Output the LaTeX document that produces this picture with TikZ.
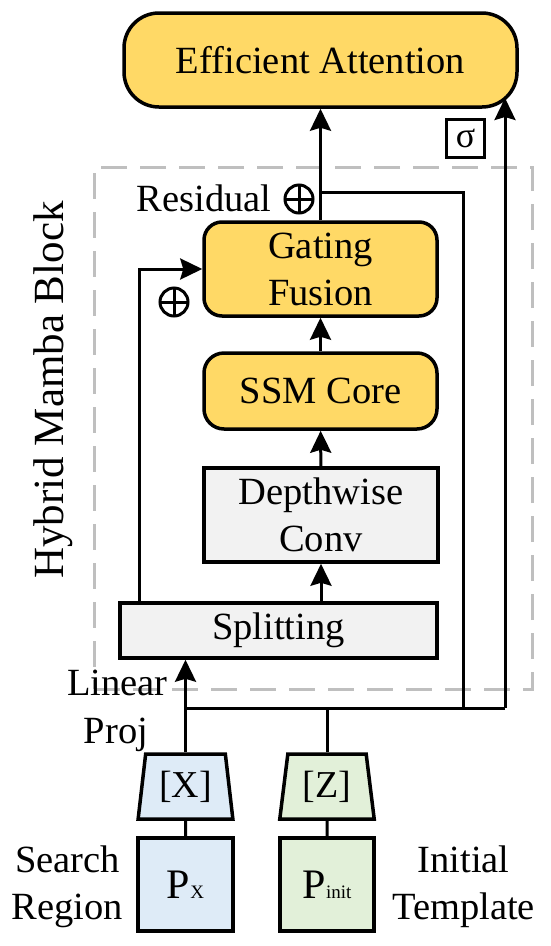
\documentclass[tikz,border=0pt]{standalone}
\usepackage{fontspec}
\setmainfont{Liberation Serif}
\usetikzlibrary{arrows.meta,shapes.geometric,calc}
\definecolor{gold}{HTML}{FFD966}
\definecolor{lightgrey}{HTML}{F2F2F2}
\definecolor{paleblue}{HTML}{DEEBF7}
\definecolor{palegreen}{HTML}{E2F0D9}
\definecolor{dashgrey}{HTML}{BFBFBF}
\begin{document}
\begin{tikzpicture}[x=1pt, y=-1pt, >={Stealth[length=22pt,width=21pt,inset=3pt]}, line width=3pt, font=\fontsize{38.5}{47}\selectfont]
		\tikzset{yb/.style={draw, fill=gold, rounded corners=18pt, line width=3.5pt, align=center, inner sep=0pt}}
		\tikzset{gb/.style={draw, fill=lightgrey, line width=3.5pt, align=center, inner sep=0pt}}
		\tikzset{trap/.style={draw, trapezium, trapezium left angle=81, trapezium right angle=81, trapezium stretches=true, minimum width=95pt, minimum height=65pt, line width=3.5pt, inner sep=0pt, font=\fontsize{38}{38}\selectfont}}
		\tikzset{op/.style={circle, draw, minimum size=28pt, inner sep=0pt, line width=3pt, path picture={\draw[line width=3pt] (path picture bounding box.north) -- (path picture bounding box.south) (path picture bounding box.west) -- (path picture bounding box.east);}}}
		\tikzset{lbl/.style={inner sep=0pt, align=center}}
		\useasboundingbox (0,0) rectangle (550,946);
		% dashed block frame
		\node[draw=dashgrey, dash pattern=on 26pt off 13pt, minimum width=438pt, minimum height=522pt, inner sep=0pt] (hmb) at (313,428) {};
		\node[lbl, rotate=90, anchor=base, font=\fontsize{43}{43}\selectfont] (hmbl) at (63,390) {Hybrid Mamba Block};
		% blocks
		\node[yb, rounded corners=35pt, minimum width=393pt, minimum height=94pt] (ea) at (320.5,60) {Efficient Attention};
		\node[draw, line width=3pt, minimum size=38pt, inner sep=0pt, font=\fontsize{36}{36}\selectfont] (sig) at (465.5,138) {σ};
		\node[yb, minimum width=233pt, minimum height=94pt] (gate) at (320.5,269) {Gating\\Fusion};
		\node[yb, rounded corners=20pt, minimum width=233pt, minimum height=76pt] (ssm) at (320.5,391) {SSM Core};
		\node[gb, minimum width=234pt, minimum height=94pt] (dw) at (321,515) {Depthwise\\Conv};
		\node[gb, minimum width=317pt, minimum height=55pt] (split) at (278.5,630.5) {Splitting};
		% inputs
		\node[trap, fill=paleblue] (tx) at (185.5,786.5) {[X]};
		\node[trap, fill=palegreen] (tz) at (327,786.5) {[Z]};
		\node[draw, fill=paleblue, line width=3.5pt, minimum width=95pt, minimum height=93pt, inner sep=0pt] (px) at (185.5,884.5) {{\fontsize{42}{42}\selectfont P}{\fontsize{19}{19}\selectfont X}};
		\node[draw, fill=palegreen, line width=3.5pt, minimum width=94pt, minimum height=93pt, inner sep=0pt] (pinit) at (327,884.5) {{\fontsize{42}{42}\selectfont P}{\fontsize{19}{19}\selectfont init}};
		% labels
		\node[lbl, anchor=base] (res) at (204,211) {Residual};
		\node[op] (resop) at (299,199) {};
		\node[op] (skipop) at (174,302) {};
		\node[lbl, anchor=base] (lin) at (117.5,695) {Linear};
		\node[lbl, anchor=base] (proj) at (116,743) {Proj};
		\node[lbl] (sr) at (67.5,886.5) {Search\\Region};
		\node[lbl] (it) at (463.5,886.5) {Initial\\Template};
		% junctions
		\coordinate (rj) at (320.5,192);
		\coordinate (bj) at (463,708);
		\coordinate (lp) at (185.5,708);
		\coordinate (busr) at (505,708);
		\coordinate (eaend) at (505,98);
		% main flow
		\draw (tx) -- (px);
		\draw (tz) -- (pinit);
		\draw[->] (tx.north) -- (tx.north |- split.south);
		\draw[->] (split.north -| dw.south) -- (dw.south);
		\draw[->] (dw) -- (ssm);
		\draw[->] (ssm) -- (gate);
		\draw[->] (gate.north) -- (ea.south);
		\draw[->] ([xshift=21pt]split.north west) |- (gate.west);
		% residual and template paths
		\draw (rj) -| (bj);
		\draw (lp) -- (busr);
		\draw (tz.north) -- (tz.north |- lp);
		\draw[->] (busr) -- (eaend);
\end{tikzpicture}
\end{document}
